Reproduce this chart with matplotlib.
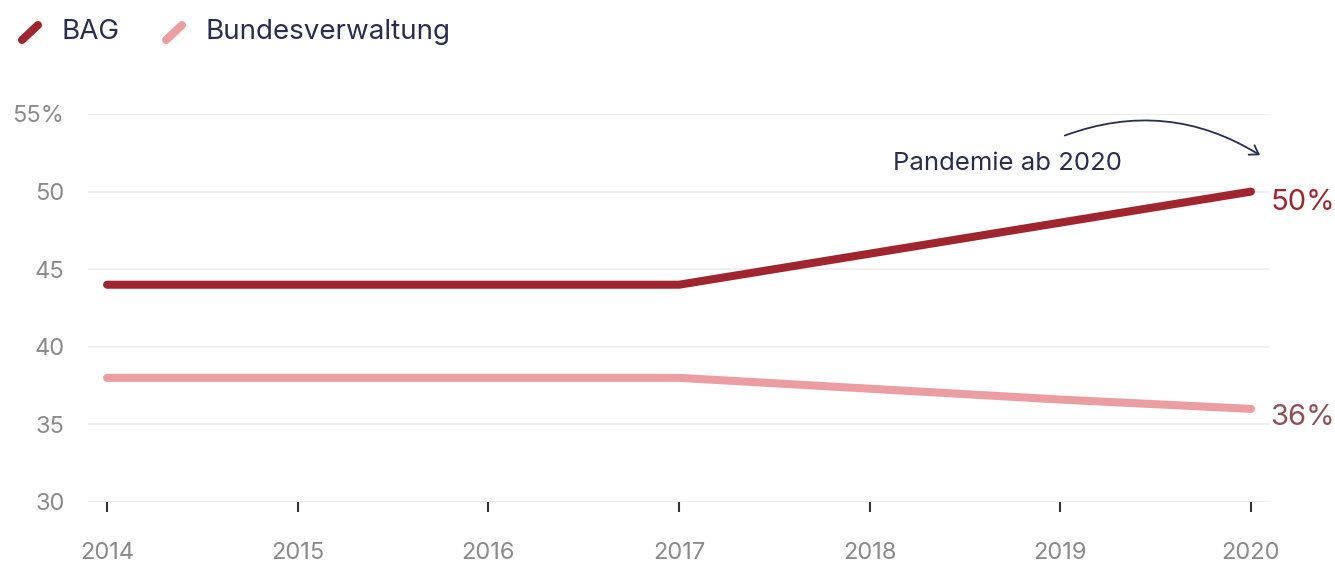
import matplotlib.pyplot as plt
from matplotlib.lines import Line2D
from matplotlib.patches import FancyArrowPatch

plt.rcParams['font.family'] = ['Inter', 'DejaVu Sans']

# data
years = [2014, 2015, 2016, 2017, 2018, 2019, 2020]
bag = [44, 44, 44, 44, 46, 48, 50]
bund = [38, 38, 38, 38, 37.3, 36.6, 36]
series_names = ['BAG', 'Bundesverwaltung']
y_ticks = [30, 35, 40, 45, 50, 55]
y_labels = ['30', '35', '40', '45', '50', '55%']

c_bag = '#a0252e'
c_bund = '#ec9da2'
c_text = '#2a2d52'
c_gray = '#8a8a8a'

fig = plt.figure(figsize=(13.35, 5.63), dpi=100)
ax = fig.add_axes([88/1335, 61/563, (1270-88)/1335, (502-114)/563])

ax.plot(years, bag, color=c_bag, lw=5.8, solid_capstyle='round', zorder=3)
ax.plot(years, bund, color=c_bund, lw=5.8, solid_capstyle='round', zorder=3)

ax.set_xlim(2013.9, 2020.1)
ax.set_ylim(30, 55)
ax.set_yticks(y_ticks)
ax.set_yticklabels(y_labels)
ax.set_xticks(years)
ax.set_xticklabels([str(y) for y in years])

for s in ax.spines.values():
    s.set_visible(False)
ax.grid(axis='y', color='#ececec', lw=1.2)
ax.set_axisbelow(True)
ax.tick_params(axis='y', length=0, pad=17, labelsize=17, labelcolor=c_gray)
ax.tick_params(axis='x', length=7, width=1.5, color='#333333', pad=22,
               labelsize=17, labelcolor=c_gray)

# end labels
ax.annotate('50%', (years[-1], bag[-1]), xytext=(14, -8), textcoords='offset points',
            color=c_bag, fontsize=21, va='center', ha='left')
ax.annotate('36%', (years[-1], bund[-1]), xytext=(14, -6), textcoords='offset points',
            color='#8f4f55', fontsize=21, va='center', ha='left')

# annotation
ax.text(2018.12, 51.8, 'Pandemie ab 2020', color=c_text, fontsize=18.5,
        va='center', ha='left')
arrow = FancyArrowPatch((2019.01, 53.55), (2020.06, 52.25),
                        connectionstyle='arc3,rad=-0.25', arrowstyle='->,head_length=6,head_width=4',
                        color=c_text, lw=1.3, clip_on=False)
ax.add_patch(arrow)

# legend
W, H = 1335, 563
for x0, col, name in [(22, c_bag, series_names[0]), (166, c_bund, series_names[1])]:
    fig.add_artist(Line2D([x0/W, (x0+16)/W], [(H-40)/H, (H-25)/H], color=col,
                          lw=5.8, solid_capstyle='round'))
    fig.text((x0+40)/W, (H-32)/H, name, color=c_text, fontsize=20, va='center', ha='left')

fig.savefig('out.png', dpi=100)
